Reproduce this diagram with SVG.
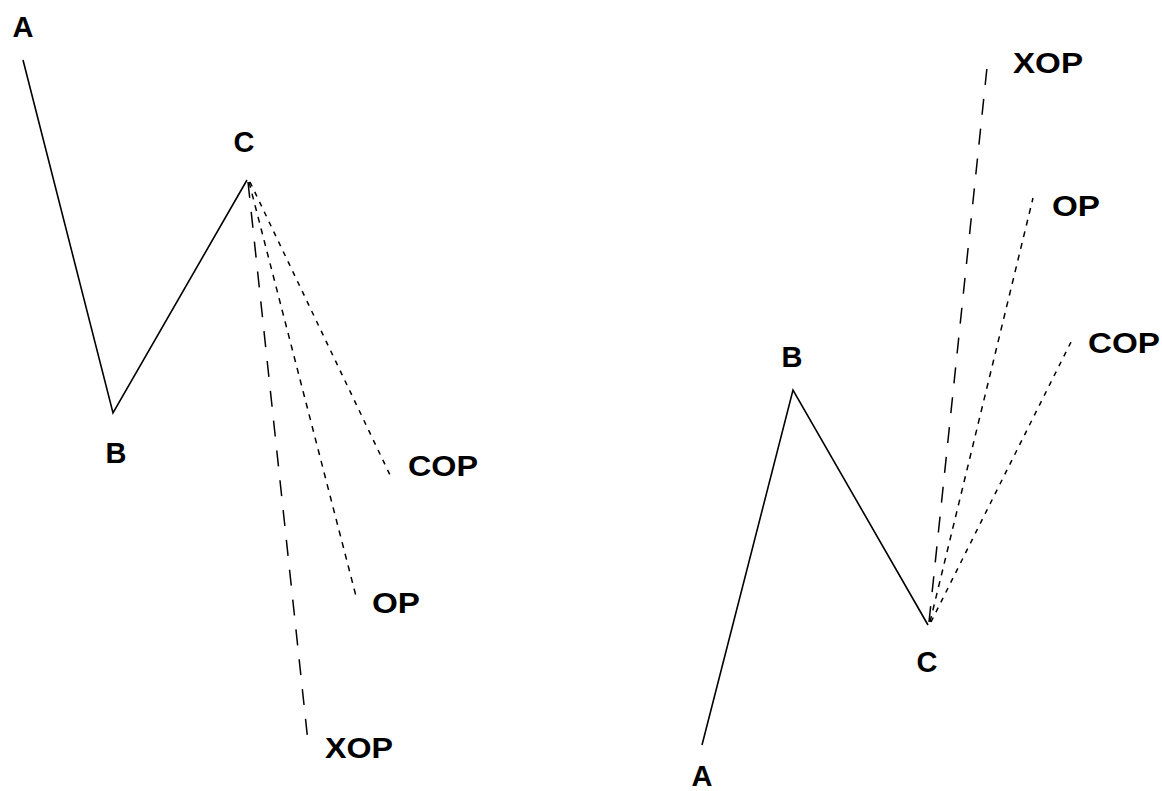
<svg xmlns="http://www.w3.org/2000/svg" width="1162" height="791" viewBox="0 0 1162 791">
<style>
.lbl{font-family:"Liberation Sans",Arial,sans-serif;font-weight:bold;font-size:29px;fill:#000}
.solid{fill:none;stroke:#000;stroke-width:1.6}
.long{fill:none;stroke:#000;stroke-width:1.5;stroke-dasharray:16 14}
.short{fill:none;stroke:#000;stroke-width:1.5;stroke-dasharray:6 6}
.dot{fill:none;stroke:#000;stroke-width:1.5;stroke-dasharray:5 6}
</style>
<rect width="1162" height="791" fill="#fff"/>
<g id="connectors">
<polyline class="solid" points="23,60 113,413 247,180"/>
<line class="long" x1="248" y1="182" x2="308" y2="742"/>
<line class="short" x1="249" y1="182" x2="357" y2="600"/>
<line class="dot" x1="250" y1="182" x2="390" y2="475"/>
<polyline class="solid" points="702,745 793,390 928,625"/>
<line class="long" x1="929" y1="622" x2="988" y2="58"/>
<line class="short" x1="930" y1="622" x2="1033" y2="198"/>
<line class="dot" x1="931" y1="622" x2="1073" y2="338"/>
</g>
<g id="left-A"><text class="lbl" x="23" y="37" text-anchor="middle">A</text></g>
<g id="left-B"><text class="lbl" x="116" y="463" text-anchor="middle">B</text></g>
<g id="left-C"><text class="lbl" x="244" y="152" text-anchor="middle">C</text></g>
<g id="left-COP"><text class="lbl" x="408" y="476" textLength="70" lengthAdjust="spacingAndGlyphs">COP</text></g>
<g id="left-OP"><text class="lbl" x="372" y="613" textLength="48" lengthAdjust="spacingAndGlyphs">OP</text></g>
<g id="left-XOP"><text class="lbl" x="325" y="758" textLength="68" lengthAdjust="spacingAndGlyphs">XOP</text></g>
<g id="right-A"><text class="lbl" x="702" y="786" text-anchor="middle">A</text></g>
<g id="right-B"><text class="lbl" x="792" y="367" text-anchor="middle">B</text></g>
<g id="right-C"><text class="lbl" x="927" y="672" text-anchor="middle">C</text></g>
<g id="right-XOP"><text class="lbl" x="1013" y="73" textLength="70" lengthAdjust="spacingAndGlyphs">XOP</text></g>
<g id="right-OP"><text class="lbl" x="1052" y="216" textLength="48" lengthAdjust="spacingAndGlyphs">OP</text></g>
<g id="right-COP"><text class="lbl" x="1088" y="353" textLength="72" lengthAdjust="spacingAndGlyphs">COP</text></g>
</svg>
